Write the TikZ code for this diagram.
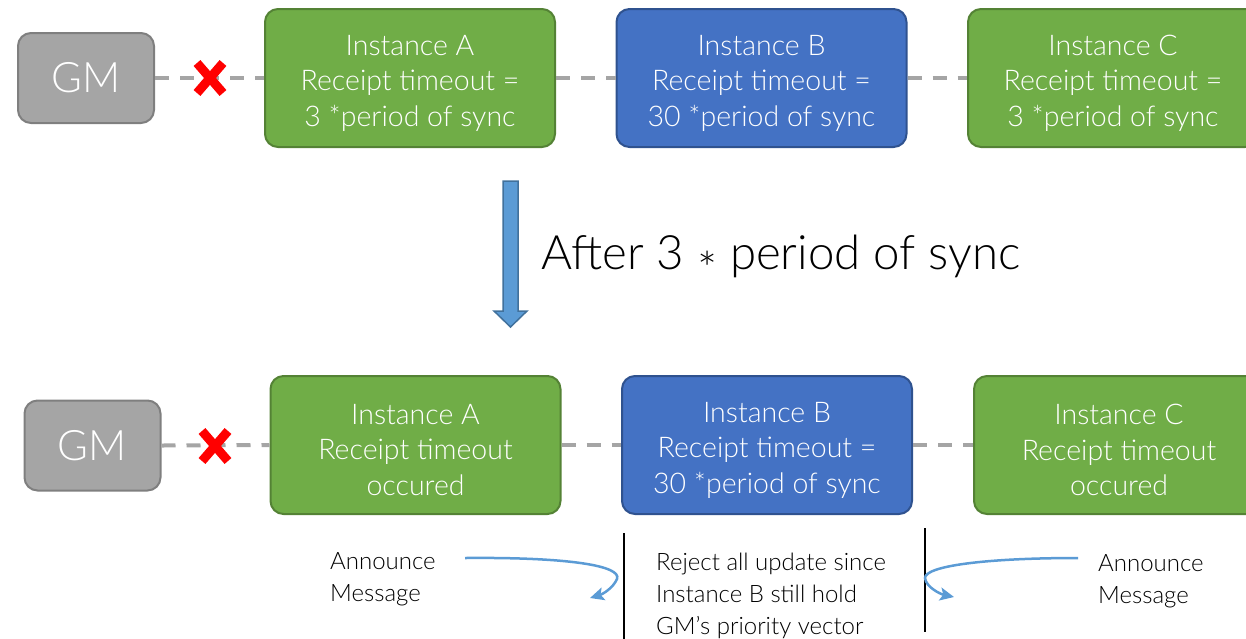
\documentclass[tikz,border=0pt]{standalone}
\usepackage{fontspec}
\IfFontExistsTF{Lato Light}{\setmainfont{Lato Light}}{\setmainfont{Lato}}
\usetikzlibrary{arrows.meta}
\definecolor{gmfill}{HTML}{A5A5A5}
\definecolor{gmline}{HTML}{7F7F7F}
\definecolor{grnfill}{HTML}{70AD47}
\definecolor{grnline}{HTML}{548235}
\definecolor{blufill}{HTML}{4472C4}
\definecolor{bluline}{HTML}{2F528F}
\definecolor{arrfill}{HTML}{5B9BD5}
\definecolor{arrline}{HTML}{41719C}
\definecolor{linkgray}{HTML}{A5A5A5}
\tikzset{
  box/.style={rounded corners=13pt, line width=2pt,
    minimum width=290pt, minimum height=138pt, inner sep=0pt},
  boxtext/.style={align=center, text=white, inner sep=0pt,
    font=\fontsize{28.5}{35.5}\selectfont},
  gmbox/.style={box, fill=gmfill, draw=gmline, minimum width=136pt,
    minimum height=90pt, text=white, font=\fontsize{42}{46}\selectfont},
  grnbox/.style={box, fill=grnfill, draw=grnline},
  blubox/.style={box, fill=blufill, draw=bluline},
  link/.style={draw=linkgray, line width=4pt, dash pattern=on 14pt off 11pt},
  cross/.style={draw=red, line width=9pt},
  note/.style={align=left, anchor=west, inner sep=0pt, text=black,
    font=\fontsize{24}{32}\selectfont},
  divider/.style={draw=black, line width=2.5pt},
  announce/.style={draw=arrfill, line width=2.5pt, -{Stealth[length=14pt,width=13pt,inset=3pt]}},
}
\newcommand\midast{\raisebox{-17pt}{*}}
\begin{document}
\begin{tikzpicture}[x=1pt, y=-1pt]
\useasboundingbox (0,0) rectangle (1246,638);
\clip (0,0) rectangle (1246,638);

% ---- before: GM link broken ----
\node[gmbox]  (gm1) at (86,78)    {GM};
\node[grnbox] (a1)  at (410,78)   {};
\node[blubox] (b1)  at (761.5,78) {};
\node[grnbox] (c1)  at (1113,78)  {};
\node[boxtext] (a1t) at ([yshift=-5pt]a1.center) {Instance A\\Receipt timeout =\\3 *period of sync};
\node[boxtext] (b1t) at ([yshift=-5pt]b1.center) {Instance B\\Receipt timeout =\\30 *period of sync};
\node[boxtext] (c1t) at ([yshift=-5pt]c1.center) {Instance C\\Receipt timeout =\\3 *period of sync};
\draw[link] (gm1.east) -- (a1.west);
\draw[link] (a1.east) -- (b1.west);
\draw[link] (b1.east) -- (c1.west);
\coordinate (x1) at (210,78);
\draw[cross] ([shift={(-13,-15)}]x1) -- ([shift={(13,15)}]x1);
\draw[cross] ([shift={(13,-15)}]x1) -- ([shift={(-13,15)}]x1);

% ---- transition arrow ----
\draw[fill=arrfill, draw=arrline, line width=1.5pt, line join=miter]
  (503,181) -- (518,181) -- (518,311) -- (527,311) -- (510.5,327)
  -- (494,311) -- (503,311) -- cycle;
\node[anchor=west, inner sep=0pt, font=\fontsize{47.4}{50}\selectfont] (after) at (541,261)
  {After 3 \midast{} period of sync};

% ---- after: receipt timeouts ----
\node[gmbox]  (gm2) at (92.5,445.5) {GM};
\node[grnbox] (a2)  at (415.5,445)  {};
\node[blubox] (b2)  at (767,445)    {};
\node[grnbox] (c2)  at (1119,445)   {};
\node[boxtext] (a2t) at ([yshift=-5pt]a2.center) {Instance A\\Receipt timeout\\occured};
\node[boxtext] (b2t) at ([yshift=-5pt]b2.center) {Instance B\\Receipt timeout =\\30 *period of sync};
\node[boxtext] (c2t) at ([yshift=-5pt]c2.center) {Instance C\\Receipt timeout\\occured};
\draw[link] (gm2.east) -- (a2.west);
\draw[link] (a2.east) -- (b2.west);
\draw[link] (b2.east) -- (c2.west);
\coordinate (x2) at (215,446);
\draw[cross] ([shift={(-13,-15)}]x2) -- ([shift={(13,15)}]x2);
\draw[cross] ([shift={(13,-15)}]x2) -- ([shift={(-13,15)}]x2);

% ---- announce messages rejected by B ----
\coordinate (wl1) at (624,533);
\coordinate (wl2) at (624,640);
\coordinate (wr1) at (925,528);
\coordinate (wr2) at (925,632);
\draw[divider] (wl1) -- (wl2);
\draw[divider] (wr1) -- (wr2);

\node[note] (annl) at (330,579) {Announce\\Message};
\node[note] (annr) at (1098,581) {Announce\\Message};
\node[note] (rej)  at (656,596) {Reject all update since\\Instance B still hold\\GM’s priority vector};

\coordinate (sl) at (465,558);
\coordinate (tl) at (590,598);
\coordinate (sr) at (1078,558);
\coordinate (tr) at (954,597);
\draw[announce] (sl) .. controls (570,557) and (622,566) .. (617,579)
  .. controls (613,588) and (603,594) .. (tl);
\draw[announce] (sr) .. controls (985,558) and (925,566) .. (925,578)
  .. controls (926,587) and (940,594) .. (tr);
\end{tikzpicture}
\end{document}
